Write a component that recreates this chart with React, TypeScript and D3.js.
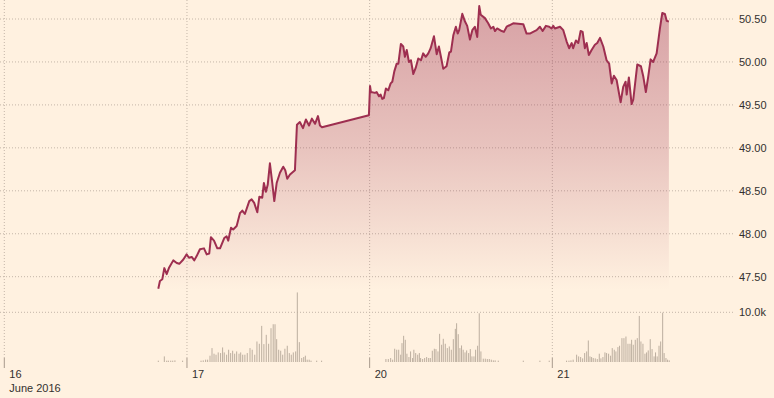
import { area, line, scaleLinear } from "d3";
import { FC } from "react";

// x values are trading-day offsets: 0 = 16 June, 1 = 17, 2 = 20 (weekend skipped), 3 = 21
const dayTicks = [0, 1, 2, 3];
const dayLabels = ["16", "17", "20", "21"];
const monthLabel = "June 2016";

const priceTicks = [47.5, 48, 48.5, 49, 49.5, 50, 50.5];
const volumeTicks = [10000];

const prices: [number, number][] = [
  [0.843, 47.36], [0.852, 47.45], [0.865, 47.47], [0.876, 47.6], [0.889, 47.53], [0.901, 47.6],
  [0.925, 47.69], [0.944, 47.66], [0.958, 47.65], [0.98, 47.7], [0.998, 47.76], [1.011, 47.72],
  [1.026, 47.73], [1.04, 47.69], [1.053, 47.74], [1.071, 47.82], [1.093, 47.83], [1.108, 47.76],
  [1.122, 47.77], [1.131, 47.96], [1.148, 47.92], [1.166, 47.83], [1.181, 47.83], [1.204, 47.95],
  [1.217, 47.97], [1.226, 47.92], [1.241, 48.07], [1.253, 48.05], [1.272, 48.09], [1.29, 48.24],
  [1.303, 48.27], [1.317, 48.23], [1.341, 48.38], [1.354, 48.4], [1.368, 48.36], [1.385, 48.25],
  [1.396, 48.43], [1.412, 48.42], [1.421, 48.59], [1.432, 48.49], [1.442, 48.57], [1.454, 48.82],
  [1.467, 48.59], [1.478, 48.38], [1.491, 48.59], [1.509, 48.71], [1.527, 48.78], [1.538, 48.74],
  [1.549, 48.64], [1.564, 48.69], [1.591, 48.74], [1.602, 49.27], [1.618, 49.3], [1.635, 49.23],
  [1.651, 49.33], [1.668, 49.26], [1.684, 49.34], [1.701, 49.28], [1.717, 49.37], [1.728, 49.26],
  [1.739, 49.24], [1.996, 49.38], [2.002, 49.72], [2.007, 49.65], [2.029, 49.64], [2.038, 49.65],
  [2.051, 49.6], [2.06, 49.62], [2.069, 49.57], [2.078, 49.58], [2.089, 49.69], [2.102, 49.67],
  [2.115, 49.75], [2.124, 49.77], [2.135, 49.89], [2.148, 49.98], [2.157, 49.98], [2.171, 50.21],
  [2.184, 50.18], [2.193, 50.06], [2.203, 50.14], [2.215, 50.0], [2.226, 50.02], [2.239, 49.86],
  [2.252, 49.93], [2.266, 50.04], [2.281, 50.02], [2.293, 50.1], [2.307, 50.06], [2.321, 50.1],
  [2.334, 50.16], [2.352, 50.3], [2.367, 50.09], [2.379, 50.18], [2.394, 50.02], [2.403, 49.92],
  [2.421, 49.95], [2.436, 50.11], [2.445, 50.12], [2.458, 50.31], [2.472, 50.41], [2.482, 50.33],
  [2.49, 50.37], [2.507, 50.56], [2.522, 50.47], [2.534, 50.42], [2.549, 50.26], [2.562, 50.37],
  [2.576, 50.41], [2.589, 50.29], [2.6, 50.65], [2.608, 50.55], [2.631, 50.51], [2.649, 50.45],
  [2.664, 50.39], [2.677, 50.41], [2.686, 50.36], [2.698, 50.39], [2.723, 50.36], [2.735, 50.35],
  [2.75, 50.41], [2.786, 50.45], [2.841, 50.44], [2.859, 50.33], [2.877, 50.33], [2.895, 50.35],
  [2.914, 50.37], [2.932, 50.41], [2.947, 50.36], [2.965, 50.42], [2.983, 50.41], [2.996, 50.39],
  [3.005, 50.42], [3.014, 50.39], [3.042, 50.41], [3.06, 50.37], [3.078, 50.24], [3.092, 50.16],
  [3.106, 50.22], [3.114, 50.16], [3.129, 50.25], [3.142, 50.22], [3.155, 50.36], [3.166, 50.35],
  [3.178, 50.16], [3.188, 50.22], [3.2, 50.08], [3.215, 50.14], [3.233, 50.2], [3.246, 50.22],
  [3.261, 50.28], [3.279, 50.18], [3.297, 50.02], [3.311, 49.98], [3.325, 49.75], [3.337, 49.84],
  [3.352, 49.79], [3.374, 49.53], [3.388, 49.71], [3.401, 49.77], [3.407, 49.62], [3.419, 49.82],
  [3.434, 49.51], [3.443, 49.56], [3.465, 49.97], [3.485, 49.95], [3.498, 49.83], [3.512, 49.65],
  [3.525, 49.83], [3.538, 50.03], [3.552, 50.0], [3.571, 50.1], [3.589, 50.39], [3.602, 50.57],
  [3.616, 50.56], [3.626, 50.48], [3.638, 50.47],
];

const volumes: [number, number][] = [
  [0.843, 270], [0.876, 1130], [0.889, 270], [0.898, 270], [0.911, 270], [0.922, 270], [0.934, 330],
  [0.976, 270], [1.077, 270], [1.089, 330], [1.102, 470], [1.113, 470], [1.126, 1270], [1.137, 2800],
  [1.148, 1670], [1.159, 1470], [1.171, 1930], [1.184, 1800], [1.195, 2930], [1.204, 1930],
  [1.217, 1470], [1.228, 2470], [1.239, 1800], [1.25, 2270], [1.261, 1670], [1.272, 2130],
  [1.285, 1670], [1.294, 1930], [1.305, 1470], [1.317, 1470], [1.33, 1800], [1.345, 2800],
  [1.357, 2470], [1.371, 1470], [1.383, 4130], [1.396, 3670], [1.409, 7270], [1.421, 3600],
  [1.434, 5470], [1.447, 3670], [1.46, 6800], [1.472, 7600], [1.482, 7600], [1.491, 4600],
  [1.502, 2470], [1.513, 2270], [1.524, 1470], [1.536, 2670], [1.549, 3270], [1.56, 1800],
  [1.571, 1470], [1.582, 1930], [1.595, 2130], [1.604, 14000], [1.615, 4000], [1.628, 800],
  [1.639, 1000], [1.648, 1270], [1.658, 470], [1.669, 470], [1.679, 270], [1.71, 270], [1.737, 270],
  [2.089, 600], [2.102, 600], [2.115, 800], [2.126, 470], [2.137, 2670], [2.148, 2470], [2.159, 2470],
  [2.17, 1470], [2.177, 3800], [2.186, 5270], [2.195, 4470], [2.204, 1670], [2.215, 1000],
  [2.224, 2130], [2.235, 800], [2.242, 2470], [2.252, 1800], [2.263, 1470], [2.272, 1800],
  [2.279, 800], [2.29, 600], [2.301, 800], [2.312, 1000], [2.323, 800], [2.332, 800], [2.343, 2270],
  [2.354, 2670], [2.363, 2600], [2.374, 2130], [2.383, 5670], [2.394, 3470], [2.403, 4670],
  [2.414, 3670], [2.425, 2800], [2.436, 3130], [2.447, 2470], [2.458, 4600], [2.469, 6670],
  [2.476, 7800], [2.485, 5600], [2.494, 2800], [2.503, 3330], [2.512, 2470], [2.522, 1930],
  [2.531, 2330], [2.542, 1800], [2.551, 2600], [2.56, 1130], [2.571, 1130], [2.58, 2470],
  [2.591, 3270], [2.6, 9800], [2.609, 2130], [2.622, 670], [2.633, 670], [2.644, 600], [2.655, 600],
  [2.666, 470], [2.677, 330], [2.687, 330], [2.704, 270], [2.841, 270], [2.932, 270], [2.983, 270],
  [3.078, 270], [3.091, 270], [3.102, 330], [3.114, 470], [3.133, 1470], [3.144, 1130], [3.155, 1000],
  [3.166, 730], [3.177, 1800], [3.188, 2130], [3.197, 4330], [3.206, 1130], [3.215, 1000],
  [3.224, 800], [3.235, 730], [3.246, 600], [3.257, 1670], [3.266, 730], [3.277, 1000],
  [3.288, 1930], [3.297, 1800], [3.308, 1670], [3.319, 1270], [3.328, 2800], [3.339, 2470],
  [3.348, 2130], [3.359, 3000], [3.368, 3270], [3.381, 4800], [3.392, 4800], [3.403, 5130],
  [3.414, 3670], [3.425, 3670], [3.434, 4470], [3.443, 3470], [3.454, 4470], [3.465, 4800],
  [3.476, 9270], [3.485, 4130], [3.496, 3670], [3.507, 1670], [3.516, 1930], [3.525, 2330],
  [3.536, 4600], [3.546, 2600], [3.557, 1130], [3.565, 1930], [3.574, 1130], [3.584, 3270],
  [3.593, 4130], [3.604, 9930], [3.612, 1800], [3.622, 800], [3.631, 470], [3.64, 330],
];

const width = 774;
const height = 398;
const bg = "#fff1e0";
const claret = "#9e2f50";
const gridColor = "#c4b6a8";
const textColor = "#33302e";
const font = "Arial, 'Liberation Sans', sans-serif";

const App: FC = () => {
  const x = scaleLinear().domain([0, 4]).range([4.3, 735]);
  const y = scaleLinear().domain([47.5, 50.5]).range([276.7, 19]);
  const yVol = scaleLinear().domain([0, 10000]).range([362, 312.3]);
  const gridRight = 733;
  const areaBase = 290;

  const linePath = line<[number, number]>()
    .x((d) => x(d[0]))
    .y((d) => y(d[1]))(prices) as string;
  const areaPath = area<[number, number]>()
    .x((d) => x(d[0]))
    .y0(areaBase)
    .y1((d) => y(d[1]))(prices) as string;

  return (
    <svg
      width={width}
      height={height}
      style={{ position: "absolute", left: 0, top: 0, display: "block" }}
      fontFamily={font}
    >
      <defs>
        <linearGradient id="fade" gradientUnits="userSpaceOnUse" x1={0} y1={0} x2={0} y2={areaBase}>
          <stop offset="0" stopColor={claret} stopOpacity={0.42} />
          <stop offset="0.5" stopColor={claret} stopOpacity={0.24} />
          <stop offset="1" stopColor={claret} stopOpacity={0} />
        </linearGradient>
      </defs>
      <rect width={width} height={height} fill={bg} />

      {/* horizontal grid + labels */}
      {priceTicks.map((t) => (
        <g key={t}>
          <line x1={0} x2={gridRight} y1={y(t)} y2={y(t)} stroke={gridColor} strokeDasharray="1,2" />
          <text x={739} y={y(t) + 4} fontSize={11} fill={textColor}>
            {t.toFixed(2)}
          </text>
        </g>
      ))}
      {volumeTicks.map((t) => (
        <g key={t}>
          <line x1={0} x2={gridRight} y1={yVol(t)} y2={yVol(t)} stroke={gridColor} strokeDasharray="1,2" />
          <text x={739} y={yVol(t) + 4} fontSize={11} fill={textColor}>
            {(t / 1000).toFixed(1)}k
          </text>
        </g>
      ))}

      {/* vertical grid + day ticks */}
      {dayTicks.map((d, i) => (
        <g key={d}>
          <line x1={x(d)} x2={x(d)} y1={0} y2={358} stroke={gridColor} strokeDasharray="1,2" />
          <line x1={x(d)} x2={x(d)} y1={358} y2={368} stroke="#a89a8c" />
          <text x={x(d) + 5} y={378} fontSize={11} fill={textColor}>
            {dayLabels[i]}
          </text>
        </g>
      ))}
      <text x={x(0) + 5} y={392} fontSize={11} fill={textColor}>
        {monthLabel}
      </text>

      {/* price area + line */}
      <path d={areaPath} fill="url(#fade)" />
      <path d={linePath} fill="none" stroke={claret} strokeWidth={2} strokeLinejoin="round" />

      {/* volume bars */}
      {volumes.map((v, i) => (
        <rect
          key={i}
          x={x(v[0]) - 0.5}
          width={1}
          y={yVol(v[1])}
          height={yVol(0) - yVol(v[1])}
          fill="#bcae9f"
        />
      ))}
    </svg>
  );
};

export default App;
